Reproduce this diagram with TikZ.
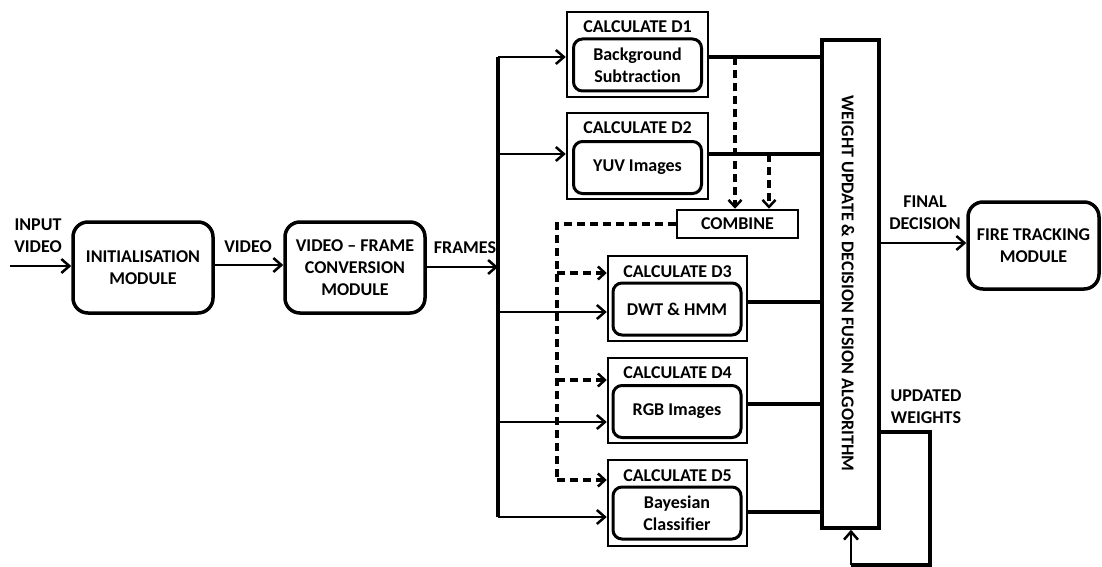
\documentclass[tikz,border=0pt]{standalone}
\usepackage{fontspec}
\setmainfont{Carlito}[Ligatures=NoCommon]
\usetikzlibrary{arrows.meta,calc}
\begin{document}
\begin{tikzpicture}[x=1pt,y=-1pt,
  txt/.style={font=\fontsize{18}{22}\selectfont\bfseries, align=center, inner sep=0pt},
  modbox/.style={draw, line width=3.5pt, rounded corners=15pt, txt},
  outbox/.style={draw, line width=2.5pt, inner sep=0pt, minimum width=139pt, minimum height=85pt},
  innbox/.style={draw, line width=3pt, rounded corners=9pt, txt, minimum width=128pt, minimum height=52pt},
  arr/.style={line width=2.5pt, -{Straight Barb[length=8pt,width=14pt,line width=2.5pt]}},
  bus/.style={line width=3.5pt},
  dsh/.style={line width=3.5pt, dash pattern=on 8pt off 5pt},
  dsharr/.style={dsh, -{Straight Barb[length=7pt,width=13pt,line width=2.5pt]}}
]
\useasboundingbox (0,0) rectangle (1102,567);

% modules
\node[modbox, minimum width=140pt, minimum height=91pt] (init) at (143,267.5) {INITIALISATION\\MODULE};
\node[modbox, minimum width=140pt, minimum height=91pt] (vfc) at (355,267.5) {VIDEO -- FRAME\\CONVERSION\\MODULE};
\node[modbox, minimum width=131pt, minimum height=87pt] (fire) at (1033.5,245.5) {FIRE TRACKING\\MODULE};

% calculation boxes
\node[outbox, minimum width=141pt] (D1o) at (637.5,54.5) {};
\node[txt] (D1t) at (637.5,27) {CALCULATE D1};
\node[innbox] (D1i) at (637.5,65) {Background\\Subtraction};

\node[outbox, minimum width=141pt, minimum height=86pt] (D2o) at (637.5,156) {};
\node[txt] (D2t) at (637.5,128) {CALCULATE D2};
\node[innbox] (D2i) at (637.5,167.5) {YUV Images};

\node[outbox] (D3o) at (677.5,298.5) {};
\node[txt] (D3t) at (677.5,272) {CALCULATE D3};
\node[innbox] (D3i) at (677,309) {DWT \& HMM};

\node[outbox] (D4o) at (677.5,400.5) {};
\node[txt] (D4t) at (677.5,373) {CALCULATE D4};
\node[innbox] (D4i) at (677,411.5) {RGB Images};

\node[outbox, minimum height=86pt] (D5o) at (677.5,503) {};
\node[txt] (D5t) at (677.5,476) {CALCULATE D5};
\node[innbox] (D5i) at (677,513) {Bayesian\\Classifier};

% combine
\node[draw, line width=2.5pt, txt, minimum width=121pt, minimum height=28pt] (comb) at (737.5,224) {COMBINE};

% big fusion box
\node[draw, line width=3.5pt, minimum width=57pt, minimum height=488pt] (big) at (850.5,284) {};
\node[txt, rotate=-90] (bigt) at (848,283.5) {WEIGHT UPDATE \& DECISION FUSION ALGORITHM};

% labels
\node[txt] (lin) at (38,236) {INPUT\\VIDEO};
\node[txt] (lvid) at (248,247) {VIDEO};
\node[txt] (lfr) at (465,248) {FRAMES};
\node[txt] (lfd) at (925,213) {FINAL\\DECISION};
\node[txt] (luw) at (926,407) {UPDATED\\WEIGHTS};

% coordinates
\coordinate (inS) at (10,266);
\coordinate (busT) at (498,57);
\coordinate (busB) at (498,517);
\coordinate (loopA) at (930,432);
\coordinate (loopB) at (930,565);
\coordinate (loopC) at (851,565);
\coordinate (dA) at (557,224);
\coordinate (dB) at (557,480);

% main flow
\draw[arr] (inS) -- (init.west |- inS);
\draw[arr] (init.east |- 0,265) -- (vfc.west |- 0,265);
\draw[arr] (vfc.east |- 0,267) -- (busT |- 0,267);
\draw[bus] (busT) -- (busB);
\draw[arr] (busT) -- (D1o.west |- busT);
\draw[arr] (busT |- 0,154) -- (D2o.west |- 0,154);
\draw[arr] (busT |- 0,312) -- (D3o.west |- 0,312);
\draw[arr] (busT |- 0,422) -- (D4o.west |- 0,422);
\draw[arr] (busB) -- (D5o.west |- busB);

% outputs to fusion box
\draw[bus] (D1o.east |- 0,57) -- (big.west |- 0,57);
\draw[bus] (D2o.east |- 0,154) -- (big.west |- 0,154);
\draw[bus] (D3o.east |- 0,302) -- (big.west |- 0,302);
\draw[bus] (D4o.east |- 0,404) -- (big.west |- 0,404);
\draw[bus] (D5o.east |- 0,512) -- (big.west |- 0,512);

% dashed combine paths
\draw[dsharr] (735,57) -- (735,0 |- comb.north);
\draw[dsharr] (769,154) -- (769,0 |- comb.north);
\draw[dsh] (comb.west) -- (dA) -- (dB);
\draw[dsharr] (dA |- 0,273) -- (D3o.west |- 0,273);
\draw[dsharr] (dA |- 0,380) -- (D4o.west |- 0,380);
\draw[dsharr] (dB) -- (D5o.west |- dB);

% decision and feedback
\draw[arr] (big.east |- 0,243) -- (fire.west |- 0,243);
\draw[bus] (big.east |- loopA) -- (loopA) -- (loopB) -- (loopC);
\draw[arr] (loopC) -- (loopC |- big.south);
\end{tikzpicture}
\end{document}
